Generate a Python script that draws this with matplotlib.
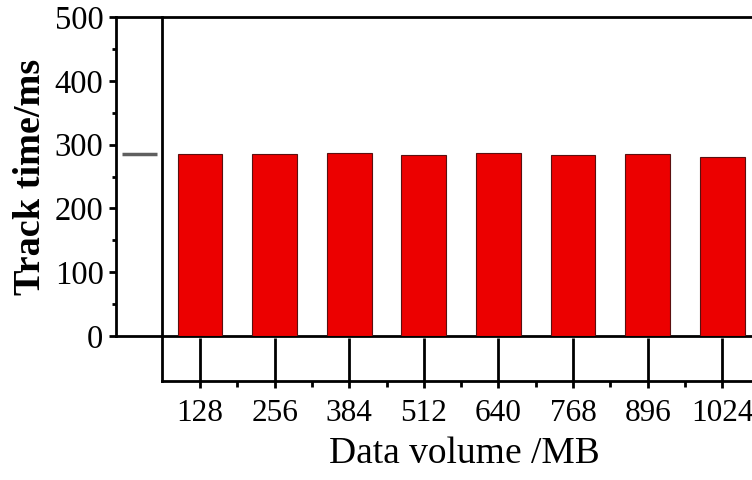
import matplotlib
matplotlib.use("Agg")
import matplotlib.pyplot as plt
from matplotlib.ticker import MultipleLocator

plt.rcParams['font.family'] = ['Liberation Serif', 'DejaVu Serif']

# data
volumes = ['128', '256', '384', '512', '640', '768', '896', '1024']
track_time = [284.8, 284.8, 286.4, 283.2, 287.3, 283.2, 285.8, 281.0]
ref_value = 285

W, H = 752, 480
fig = plt.figure(figsize=(W / 100, H / 100), dpi=100)

# lower / back axes: gives the inner vertical line and the category axis
ax_low = fig.add_axes([162 / W, (H - 381) / H, (767 - 162) / W, (381 - 17) / H])
# main axes with the y scale
ax = fig.add_axes([116 / W, (H - 336) / H, (767 - 116) / W, (336 - 17) / H])
ax.patch.set_alpha(0)

pos = list(range(len(volumes)))
ax.bar(pos, track_time, width=0.6, color='#ec0000', edgecolor='#5a1010',
       linewidth=0.8, zorder=3)
ax.hlines(ref_value, -1.05, -0.58, color='#5f5f5f', linewidth=2.5)

ax.set_xlim(-1.126, 7.60)
ax.set_ylim(0, 500)
ax.yaxis.set_major_locator(MultipleLocator(100))
ax.yaxis.set_minor_locator(MultipleLocator(50))
ax.tick_params(axis='y', which='major', direction='out', length=5, width=2,
               labelsize=23.5, pad=4)
ax.tick_params(axis='y', which='minor', direction='out', length=3, width=2)
ax.tick_params(axis='x', bottom=False, labelbottom=False)
for s in ['left', 'bottom', 'top']:
    ax.spines[s].set_linewidth(2)
ax.spines['right'].set_visible(False)
ax.set_ylabel('Track time/ms', fontsize=27.5, fontweight='bold', labelpad=5)

ax_low.set_xlim(-0.51, 7.60)
ax_low.set_ylim(0, 1)
ax_low.set_yticks([])
ax_low.spines['top'].set_visible(False)
ax_low.spines['right'].set_visible(False)
ax_low.spines['left'].set_linewidth(2)
ax_low.spines['bottom'].set_linewidth(2)
ax_low.set_xticks(pos)
ax_low.set_xticklabels(volumes)
ax_low.set_xticks([p + 0.5 for p in pos], minor=True)
ax_low.tick_params(axis='x', which='major', direction='in', length=31, width=2,
                   labelsize=22.5, pad=13)
ax_low.tick_params(axis='x', which='minor', direction='out', length=4, width=2)
ax_low.set_xlabel('Data volume /MB', fontsize=27, labelpad=6)

# short outward stubs under the major ticks
sec = ax_low.secondary_xaxis('bottom')
sec.set_xticks(pos)
sec.set_xticklabels([])
sec.tick_params(direction='out', length=5, width=2)
sec.spines['bottom'].set_visible(False)

fig.savefig('out.png', dpi=100)
